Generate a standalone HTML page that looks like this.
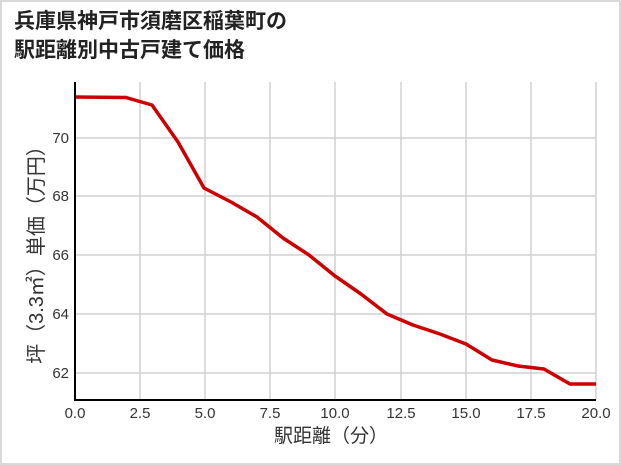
<!DOCTYPE html>
<html><head><meta charset="utf-8"><style>
body{margin:0;background:#fff}
</style></head><body>
<svg width="621" height="465" xmlns="http://www.w3.org/2000/svg" style="display:block;font-family:'Liberation Sans','Noto Sans CJK JP',sans-serif">
<rect x="1" y="1" width="619" height="463" fill="#fff" stroke="#d9d9d9" stroke-width="2"/>
<text x="14" y="28" font-size="21" font-weight="bold" fill="#222">兵庫県神戸市須磨区稲葉町の</text>
<text x="14" y="57" font-size="21" font-weight="bold" fill="#222">駅距離別中古戸建て価格</text>
<g stroke="#d0d0d0" stroke-width="1.5">
<line x1="140" y1="82" x2="140" y2="400"/><line x1="205" y1="82" x2="205" y2="400"/>
<line x1="270" y1="82" x2="270" y2="400"/><line x1="335" y1="82" x2="335" y2="400"/>
<line x1="401" y1="82" x2="401" y2="400"/><line x1="466" y1="82" x2="466" y2="400"/>
<line x1="531" y1="82" x2="531" y2="400"/><line x1="596" y1="82" x2="596" y2="400"/>
<line x1="75" y1="138" x2="596" y2="138"/><line x1="75" y1="196" x2="596" y2="196"/>
<line x1="75" y1="255" x2="596" y2="255"/><line x1="75" y1="314" x2="596" y2="314"/>
<line x1="75" y1="373" x2="596" y2="373"/>
</g>
<polyline fill="none" stroke="#cc0000" stroke-width="3.5" stroke-linejoin="round" points="75,97 126,97.5 152,105 178,142 204,188 231,202 257,217 283,238 309,255 335,276 361,294 387,314 413,325 440,334 466,344 492,360 518,366 544,369 570,384 596,384"/>
<polyline fill="none" stroke="#000" stroke-width="2" points="75,82 75,400 596,400"/>
<g font-size="15" fill="#333" text-anchor="end">
<text x="69" y="143">70</text><text x="69" y="201">68</text><text x="69" y="260">66</text>
<text x="69" y="319">64</text><text x="69" y="378">62</text>
</g>
<g font-size="15" fill="#333" text-anchor="middle">
<text x="75" y="418">0.0</text><text x="140" y="418">2.5</text><text x="205" y="418">5.0</text>
<text x="270" y="418">7.5</text><text x="335" y="418">10.0</text><text x="401" y="418">12.5</text>
<text x="466" y="418">15.0</text><text x="531" y="418">17.5</text><text x="596" y="418">20.0</text>
</g>
<text x="331" y="442" font-size="19" fill="#333" text-anchor="middle">駅距離（分）</text>
<text transform="translate(43,250) rotate(-90)" font-size="20" fill="#333" text-anchor="middle">坪（3.3㎡）単価（万円）</text>
</svg>
</body></html>
